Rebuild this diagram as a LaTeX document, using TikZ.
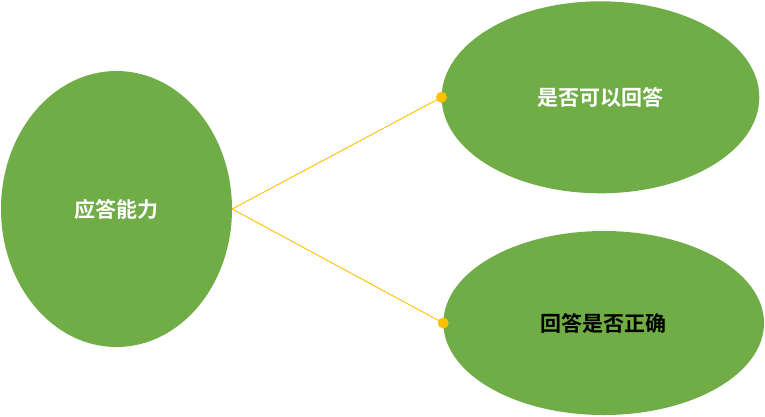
\documentclass[tikz,border=0pt]{standalone}
\usepackage{fontspec}
\newfontfamily\cjk{Noto Sans CJK SC}[BoldFont={* Bold}]
\usetikzlibrary{shapes.geometric}
\definecolor{leafgreen}{HTML}{70AD47}
\definecolor{linkgold}{HTML}{FFC000}
\begin{document}
\begin{tikzpicture}[x=1pt,y=-1pt,
  bubble/.style={ellipse, fill=leafgreen, draw=none, inner sep=0pt, font=\cjk\bfseries\fontsize{21}{25}\selectfont},
  link/.style={draw=linkgold, line width=0.9pt},
  dot/.style={circle, fill=linkgold, inner sep=0pt, minimum size=11pt}]
\useasboundingbox (0,0) rectangle (765,416);
\node[bubble, minimum width=231pt, minimum height=276pt, text=white] (root) at (116.5,209) {应答能力};
\node[bubble, minimum width=317.6pt, minimum height=192pt, text=white] (q1) at (600.5,97.3) {是否可以回答};
\node[bubble, minimum width=320.6pt, minimum height=184pt, text=black] (q2) at (603.7,323) {回答是否正确};
\draw[link] (root.east) -- (q1.west);
\draw[link] (root.east) -- (q2.west);
\node[dot] (d1) at (q1.west) {};
\node[dot] (d2) at (q2.west) {};
\end{tikzpicture}
\end{document}
